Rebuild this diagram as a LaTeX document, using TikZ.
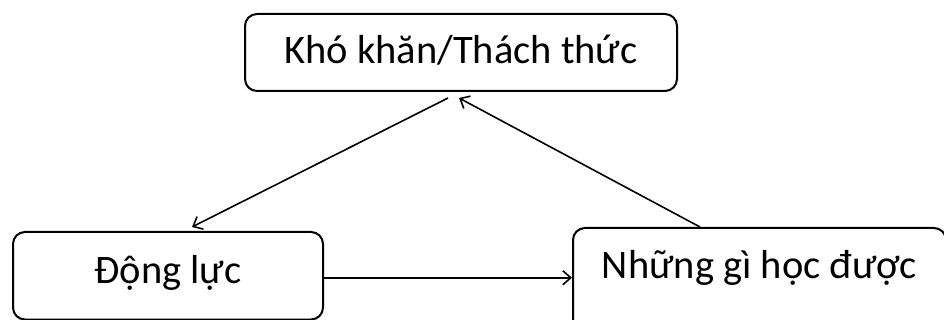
\documentclass[tikz,border=0pt]{standalone}
\usepackage{fontspec}
\setmainfont{Carlito}
\usetikzlibrary{arrows.meta}
\begin{document}
\begin{tikzpicture}[x=1pt, y=-1pt,
  box/.style={draw, line width=2pt, rounded corners=12pt, inner sep=0pt,
    anchor=base, font=\fontsize{40.5}{44}\selectfont},
  arr/.style={line width=1.6pt, -{Straight Barb[length=8pt, width=14pt, line width=1.6pt]}}]
  \fill[white] (0,0) rectangle (944,320);
  \clip (0,0) rectangle (944,320);

  % the three stages
  \node[box, minimum width=432pt, text height=50pt, text depth=27pt]
    (kk) at (461,64) {Khó khăn/Thách thức};
  \node[box, minimum width=310pt, text height=51pt, text depth=36.5pt]
    (dl) at (168,283) {Động lực};
  \node[box, minimum width=373pt, text height=50pt, text depth=60pt]
    (nr) at (759.5,278) {Những gì học được};

  % connectors
  \draw[arr] ([shift={(-13,6)}]kk.south) -- ([shift={(24,-4)}]dl.north);
  \draw[arr] ([shift={(-59.5,0)}]nr.north) -- ([shift={(-2,6)}]kk.south);
  \coordinate (h1) at ([shift={(0,2)}]dl.east);
  \draw[arr] (h1) -- (h1 -| nr.west);
\end{tikzpicture}
\end{document}
